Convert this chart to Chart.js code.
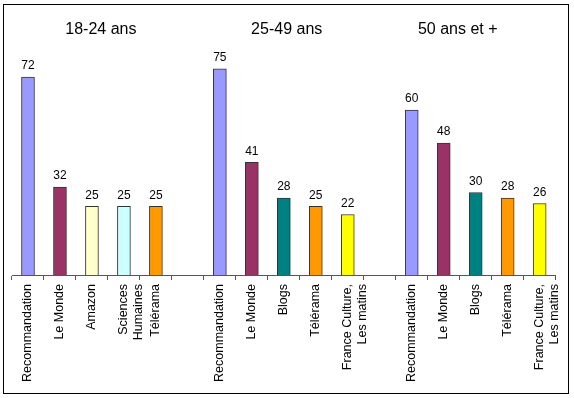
<!DOCTYPE html>
<html>
<head>
<meta charset="utf-8">
<script src="https://cdn.jsdelivr.net/npm/chart.js@4/dist/chart.umd.min.js"></script>
<style>
  html, body { margin: 0; padding: 0; background: #fff; }
  #wrap { position: relative; width: 574px; height: 398px; }
</style>
</head>
<body>
<div id="wrap"><canvas id="chart"></canvas></div>
<script>
// age groups and their sources
const groupTitles = ["18-24 ans", "25-49 ans", "50 ans et +"];
const cats18 = ["Recommandation", "Le Monde", "Amazon", ["Sciences", "Humaines"], "Télérama"];
const cats25 = ["Recommandation", "Le Monde", "Blogs", "Télérama", ["France Culture,", "Les matins"]];
const cats50 = ["Recommandation", "Le Monde", "Blogs", "Télérama", ["France Culture,", "Les matins"]];
const vals18 = [72, 32, 25, 25, 25];
const vals25 = [75, 41, 28, 25, 22];
const vals50 = [60, 48, 30, 28, 26];

// colour per source
const sourceColors = {
    "Recommandation": "#9999FF",
    "Le Monde": "#993366",
    "Amazon": "#FFFFCC",
    "Sciences": "#CCFFFF",
    "Télérama": "#FF9900",
    "Blogs": "#008080",
    "France Culture,": "#FFFF00"
};

// one empty slot between groups
const labels = [...cats18, "", ...cats25, "", ...cats50];
const values = [...vals18, null, ...vals25, null, ...vals50];
const colors = labels.map(l => sourceColors[Array.isArray(l) ? l[0] : l] || "transparent");

// where each group title sits, in category units
const titleAt = [2.28, 8.09, 13.44];

const FONT = "Arial, 'Liberation Sans', sans-serif";

const overlay = {
    id: "overlay",
    afterDraw(chart) {
        const c = chart.ctx;
        const meta = chart.getDatasetMeta(0);
        c.save();
        c.fillStyle = "#000";
        c.textAlign = "center";
        c.textBaseline = "bottom";
        c.font = "12px " + FONT;
        meta.data.forEach((bar, i) => {
            if (values[i] == null) return;
            c.fillText(String(values[i]), bar.x, bar.y - 5);
        });

        c.font = "16px " + FONT;
        c.textBaseline = "alphabetic";
        const xs = chart.scales.x;
        groupTitles.forEach((t, i) => {
            c.fillText(t, xs.getPixelForValue(titleAt[i]), 34);
        });

        // outer frame
        c.strokeStyle = "#000";
        c.lineWidth = 1;
        c.strokeRect(3.5, 4.5, 565, 389);
        c.restore();
    }
};

new Chart(document.getElementById("chart"), {
    type: "bar",
    data: {
        labels: labels,
        datasets: [{
            data: values,
            backgroundColor: colors,
            borderColor: "#333",
            borderWidth: 1,
            barThickness: 13
        }]
    },
    options: {
        responsive: true,
        maintainAspectRatio: false,
        animation: false,
        layout: {
            padding: { left: 12, right: 12, top: 55, bottom: 0 }
        },
        plugins: {
            legend: { display: false },
            tooltip: { enabled: false }
        },
        scales: {
            x: {
                afterFit(scale) { scale.height = 123; },
                grid: {
                    display: true,
                    drawOnChartArea: false,
                    drawTicks: true,
                    tickLength: 5,
                    color: "#555"
                },
                border: { display: true, color: "#555" },
                ticks: {
                    autoSkip: false,
                    minRotation: 90,
                    maxRotation: 90,
                    padding: 4,
                    color: "#000",
                    font: { family: FONT, size: 12.5, lineHeight: 1.2 }
                }
            },
            y: {
                display: false,
                min: 0,
                max: 80
            }
        }
    },
    plugins: [overlay]
});
</script>
</body>
</html>
